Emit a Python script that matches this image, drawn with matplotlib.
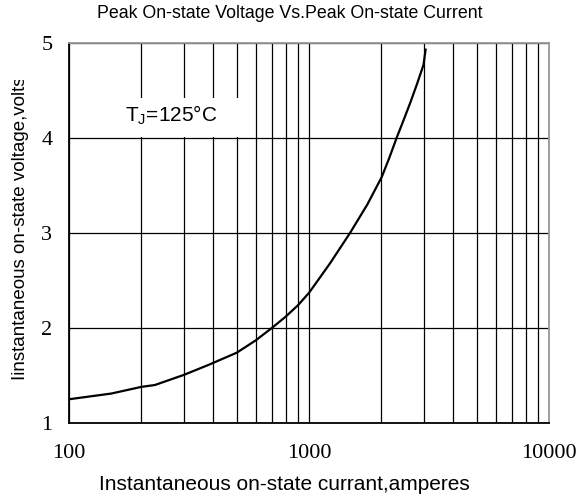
import matplotlib
matplotlib.use("Agg")
import matplotlib.pyplot as plt
from matplotlib.ticker import LogLocator, NullFormatter, FixedLocator
from matplotlib.transforms import Bbox
from matplotlib.patches import Rectangle

# curve
current = [100, 150, 200, 228, 300, 380, 500, 600, 700, 800, 900, 1000,
           1223, 1482, 1750, 2010, 2160, 2317, 2480, 2650, 2820, 3000, 3061]
voltage = [1.25, 1.31, 1.38, 1.40, 1.505, 1.61, 1.74, 1.87, 2.0, 2.12, 2.24, 2.37,
           2.68, 3.0, 3.30, 3.59, 3.79, 4.0, 4.19, 4.38, 4.57, 4.77, 4.93]

x_ticks = [100, 1000, 10000]
x_ticklabels = ["100", "1000", "10000"]
y_ticks = [1, 2, 3, 4, 5]

fig = plt.figure(figsize=(5.79, 4.99), dpi=100)
ax = fig.add_axes([69 / 579, 1 - 423 / 499, 480 / 579, 380 / 499])

ax.set_xscale("log")
ax.set_xlim(100, 10000)
ax.set_ylim(1, 5)

ax.xaxis.set_major_locator(FixedLocator(x_ticks))
ax.xaxis.set_minor_locator(LogLocator(base=10, subs=range(2, 10)))
ax.xaxis.set_minor_formatter(NullFormatter())
ax.set_xticklabels(x_ticklabels)
ax.set_yticks(y_ticks)
ax.tick_params(which="both", length=0)
ax.tick_params(axis="x", pad=15)
ax.tick_params(axis="y", pad=12)
for lab in ax.get_xticklabels() + ax.get_yticklabels():
    lab.set_fontfamily("Liberation Serif")
    lab.set_fontsize(16)

ax.grid(True, which="both", axis="x", color="black", linewidth=0.9)
ax.grid(True, which="major", axis="y", color="black", linewidth=0.9)

for s in ("left", "bottom"):
    ax.spines[s].set_color("black")
    ax.spines[s].set_linewidth(1.3)
for s in ("top", "right"):
    ax.spines[s].set_color("#999999")
    ax.spines[s].set_linewidth(1.3)

ax.plot(current, voltage, color="black", linewidth=1.6)

# white box behind the temperature note
ax.add_patch(Rectangle(((110 - 69) / 480, (423 - 137) / 380), 135 / 480, 39 / 380,
                       transform=ax.transAxes, facecolor="white", edgecolor="none",
                       zorder=4))
ax.text((125 - 69) / 480, (423 - 115) / 380, "T$_\\mathregular{J}$=125°C",
        transform=ax.transAxes, fontsize=15, family="Liberation Sans",
        va="center", ha="left", zorder=5)

fig.suptitle("Peak On-state Voltage Vs.Peak On-state Current", x=290 / 579, y=1 - 5 / 499,
             va="top", fontsize=12.8, family="Liberation Sans")
ax.set_xlabel("Instantaneous on-state currant,amperes", fontsize=15,
              family="Liberation Sans")
ax.xaxis.set_label_coords((284 - 69) / 480, -(484 - 423) / 380)
ax.xaxis.label.set_va("center")
ylab = ax.set_ylabel("Iinstantaneous on-state voltage,volts", fontsize=13.5,
                     family="Liberation Sans")
ax.yaxis.set_label_coords(-(69 - 21) / 480, (423 - 228) / 380)
ylab.set_va("center")

# the original label is cut off at the top
ylab.set_clip_box(Bbox.from_extents(0, 0, 579, 499 - 80))
ylab.set_clip_on(True)

fig.savefig("out.png", dpi=100)
